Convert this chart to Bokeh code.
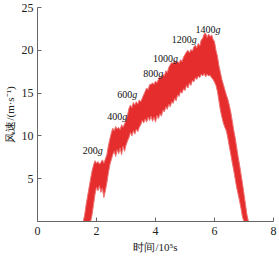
from bokeh.plotting import figure
from bokeh.models import Range1d, FixedTicker
from bokeh.embed import file_html
from bokeh.resources import INLINE
from bokeh.core.properties import value

# time (10^5 s) and read-off envelope of the noisy wind-speed record (m/s)
time_x = [1.55, 1.60, 1.65, 1.70, 1.75, 1.80, 1.85, 1.90, 1.95, 2.00, 2.05, 2.10, 2.15, 2.20, 2.25,
          2.30, 2.35, 2.40, 2.45, 2.50, 2.55, 2.60, 2.65, 2.70, 2.75, 2.80, 2.85, 2.90, 2.95, 3.00,
          3.05, 3.10, 3.15, 3.20, 3.25, 3.30, 3.35, 3.40, 3.45, 3.50, 3.55, 3.60, 3.65, 3.70, 3.75,
          3.80, 3.85, 3.90, 3.95, 4.00, 4.05, 4.10, 4.15, 4.20, 4.25, 4.30, 4.35, 4.40, 4.45, 4.50,
          4.55, 4.60, 4.65, 4.70, 4.75, 4.80, 4.85, 4.90, 4.95, 5.00, 5.05, 5.10, 5.15, 5.20, 5.25,
          5.30, 5.35, 5.40, 5.45, 5.50, 5.55, 5.60, 5.65, 5.70, 5.75, 5.80, 5.85, 5.90, 5.95, 6.00,
          6.05, 6.10, 6.15, 6.20, 6.25, 6.30, 6.35, 6.40, 6.45, 6.50, 6.55, 6.60, 6.65, 6.70, 6.75,
          6.80, 6.85, 6.90, 6.95, 7.00, 7.05, 7.10, 7.15]
speed_upper = [0.0, 0.8, 2.0, 3.0, 4.0, 5.0, 5.9, 6.6, 7.1, 6.8, 7.0, 6.7, 6.9, 7.2, 6.8,
               7.3, 7.8, 8.8, 9.6, 10.3, 10.9, 10.6, 11.1, 10.8, 11.0, 10.7, 11.3, 11.0, 11.4, 11.8,
               12.4, 13.2, 13.6, 13.3, 13.9, 13.6, 14.0, 13.7, 14.2, 14.0, 14.4, 14.8, 15.2, 15.6, 15.4,
               16.0, 16.0, 16.2, 16.0, 16.4, 16.2, 16.6, 16.9, 16.7, 17.2, 17.0, 17.6, 17.4, 18.0, 18.3,
               18.6, 18.4, 18.8, 18.5, 18.7, 18.5, 18.9, 18.7, 19.2, 19.5, 19.8, 20.0, 19.7, 20.1, 19.9,
               20.4, 20.6, 20.3, 20.8, 20.5, 21.2, 21.4, 21.9, 22.0, 21.5, 21.9, 21.6, 21.8, 21.3, 21.0,
               20.0, 19.3, 18.2, 17.4, 16.6, 16.0, 15.4, 14.8, 14.3, 13.6, 12.8, 11.8, 10.7, 9.8, 8.7,
               7.6, 6.6, 5.5, 4.4, 3.2, 2.0, 0.8, 0.0]
speed_lower = [0.0, 0.0, 0.0, 0.0, 0.0, 0.0, 0.8, 2.0, 3.2, 4.0, 3.6, 4.2, 3.4, 3.9, 2.8,
               3.6, 4.5, 5.6, 6.6, 7.2, 7.8, 8.2, 7.6, 8.4, 7.9, 8.6, 7.8, 8.8, 8.2, 8.9,
               9.4, 9.8, 10.4, 10.0, 10.6, 10.2, 10.8, 10.5, 11.0, 11.3, 11.8, 11.5, 12.0, 11.6, 12.2,
               11.8, 12.3, 11.7, 12.2, 11.6, 12.4, 12.0, 12.6, 12.3, 13.0, 12.8, 13.4, 13.1, 13.7, 13.4,
               14.0, 13.8, 14.4, 14.1, 14.8, 14.6, 15.2, 15.0, 15.5, 15.3, 15.9, 15.6, 16.2, 15.9, 16.5,
               16.3, 16.8, 16.6, 17.0, 16.8, 17.2, 17.0, 17.3, 16.9, 17.2, 17.0, 17.1, 16.8, 16.6, 16.3,
               15.9, 15.2, 14.1, 13.0, 12.2, 11.5, 11.0, 10.6, 9.8, 8.8, 7.9, 6.9, 6.0, 5.0, 4.0,
               3.2, 2.4, 1.5, 0.5, 0.0, 0.0, 0.0, 0.0]

label_nums = ["200", "400", "600", "800", "1000", "1200", "1400"]
label_x = [2.04, 2.87, 3.21, 4.09, 4.59, 5.23, 6.03]
label_y = [8.35, 12.3, 14.85, 17.3, 19.1, 21.3, 22.45]

x_ticks = [0, 2, 4, 6, 8]
y_ticks = [5, 10, 15, 20, 25]

SERIF = "Liberation Serif"

p = figure(width=279, height=259, output_backend="svg", toolbar_location=None,
           x_range=Range1d(0, 8), y_range=Range1d(0, 25),
           min_border_left=36, min_border_right=6, min_border_top=7, min_border_bottom=38)
p.outline_line_color = None
p.grid.visible = False
p.background_fill_color = "white"
p.border_fill_color = "white"

p.varea(x=time_x, y1=speed_lower, y2=speed_upper, fill_color="#e52d2d")
p.line(x=time_x, y=speed_upper, line_color="#ee7070", line_width=1)
p.line(x=time_x, y=speed_lower, line_color="#ee7070", line_width=1)

p.text(x=label_x, y=label_y, text=label_nums, text_align="right", text_baseline="middle",
       text_font=value(SERIF), text_font_size="10px", text_color="#111111")
p.text(x=label_x, y=label_y, text=["g"] * len(label_nums), text_align="left", text_baseline="middle",
       text_font=value(SERIF), text_font_size="10px", text_font_style="italic",
       text_color="#111111")

for ax in (p.xaxis[0], p.yaxis[0]):
    ax.axis_line_color = "#666666"
    ax.major_tick_line_color = "#666666"
    ax.major_tick_in = 4
    ax.major_tick_out = 0
    ax.minor_tick_line_color = None
    ax.major_label_text_font = SERIF
    ax.major_label_text_font_size = "12px"
    ax.major_label_text_color = "#222222"
    ax.axis_label_text_font = SERIF
    ax.axis_label_text_font_size = "11px"
    ax.axis_label_text_font_style = "normal"
    ax.axis_label_text_color = "#222222"

p.xaxis[0].ticker = FixedTicker(ticks=x_ticks)
p.yaxis[0].ticker = FixedTicker(ticks=y_ticks)
p.xaxis[0].axis_label = "时间/10⁵s"
p.yaxis[0].axis_label = "风速/(m·s⁻¹)"
p.xaxis[0].major_label_standoff = 5
p.xaxis[0].axis_label_standoff = 3
p.yaxis[0].major_label_standoff = 4
p.yaxis[0].axis_label_standoff = 3

open("out.html", "w").write(file_html(p, INLINE))
